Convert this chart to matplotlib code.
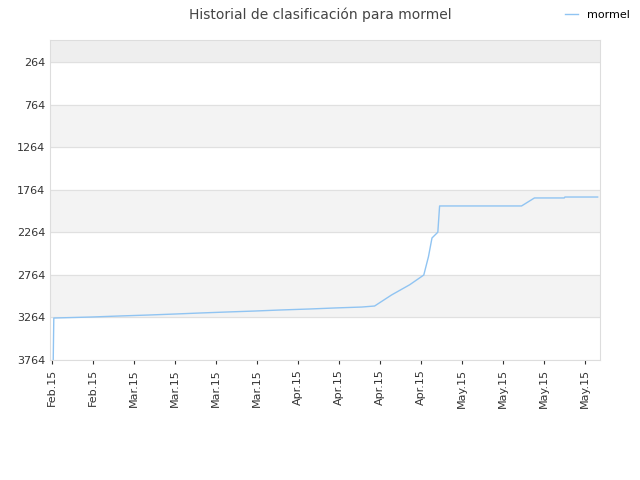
import matplotlib
matplotlib.use("Agg")
import matplotlib.pyplot as plt

# days since first tick (Feb 21 2015) and ranking position
days = [0.2, 0.3, 6.8, 11.6, 16.4, 21, 25.3, 30, 34.6, 38.9, 44, 48.3, 52.9, 55.1,
        58, 61.1, 63.5, 64.3, 64.9, 65.8, 65.9, 66.2, 73, 80.2, 82.4, 87.5, 87.6, 93.2]
rank = [3764, 3271, 3259, 3247, 3236, 3224, 3212, 3200, 3189, 3177, 3165, 3153, 3142, 3130,
        3000, 2880, 2766, 2550, 2331, 2270, 2261, 1955, 1955, 1955,
        1861, 1861, 1850, 1850]

tick_days = [0, 7, 14, 21, 28, 35, 42, 49, 56, 63, 70, 77, 84, 91]
tick_labels = ["Feb.15", "Feb.15", "Mar.15", "Mar.15", "Mar.15", "Mar.15", "Apr.15",
               "Apr.15", "Apr.15", "Apr.15", "May.15", "May.15", "May.15", "May.15"]
y_ticks = [264, 764, 1264, 1764, 2264, 2764, 3264, 3764]

fig = plt.figure(figsize=(6.4, 4.8), dpi=100)
ax = fig.add_axes([50 / 640, 120 / 480, 550 / 640, 320 / 480])

ax.axhspan(6, 264, color="#eeeeee", zorder=0)
for i, lo in enumerate(y_ticks[:-1]):
    if i % 2 == 1:
        ax.axhspan(lo, lo + 500, color="#f3f3f3", zorder=0)
for y in y_ticks:
    ax.axhline(y, color="#e0e0e0", lw=0.8, zorder=1)

ax.plot(days, rank, color="#90c4f2", lw=1.0, zorder=2, label="mormel")

ax.set_ylim(3764, 6)
ax.set_xlim(-0.35, 93.6)
ax.set_yticks(y_ticks)
ax.set_xticks(tick_days)
ax.set_xticklabels(tick_labels, rotation=90)
ax.tick_params(labelsize=8, colors="#333333", length=3)
ax.tick_params(axis="y", length=0)
for s in ax.spines.values():
    s.set_color("#dddddd")

fig.suptitle("Historial de clasificación para mormel", y=0.985, fontsize=10, color="#444444")
fig.legend(loc="upper right", bbox_to_anchor=(1.0, 1.0), frameon=False, fontsize=8,
           handlelength=1.2)

fig.savefig("out.png", dpi=100)
